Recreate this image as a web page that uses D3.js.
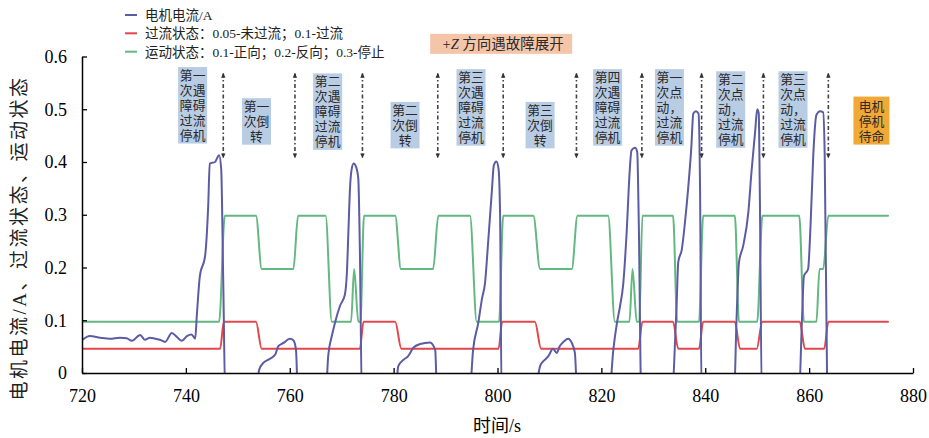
<!DOCTYPE html>
<html><head><meta charset="utf-8">
<script src="https://cdn.jsdelivr.net/npm/d3@7"></script>
<style>
html,body{margin:0;padding:0;background:#fff;}
svg{display:block;}
</style></head>
<body>
<svg id="chart" width="929" height="438"></svg>
<script>
// ---------- data ----------
const xTicks = [720, 740, 760, 780, 800, 820, 840, 860, 880];
const yTicks = [0, 0.1, 0.2, 0.3, 0.4, 0.5, 0.6];
const seriesNames = ["电机电流/A", "过流状态：0.05-未过流；0.1-过流", "运动状态：0.1-正向；0.2-反向；0.3-停止"];

// 电机电流/A
const currentTime = [
  720.1,721.5,723.5,725.4,727.3,728.6,729.6,731.2,732.1,733.1,734.1,735.0,736.0,737.3,738.2,739.2,740.2,741.1,741.8,742.1,742.7,743.7,744.3,744.6,745.6,746.4,746.8,747.2,747.6,
  753.6,754.1,754.9,756.2,757.2,757.8,758.8,760.0,760.7,761.2,761.6,
  767.0,767.4,768.1,768.7,769.7,770.6,771.0,771.3,771.6,771.9,772.3,772.8,773.2,773.5,773.9,
  780.4,780.9,781.9,782.8,783.8,785.1,787.0,788.0,788.4,
  794.7,795.3,796.3,797.0,797.6,798.2,798.9,799.3,799.8,800.2,800.5,800.8,
  807.3,808.2,809.1,809.8,810.7,811.4,812.0,812.8,813.6,814.3,814.9,815.4,
  821.6,822.3,823.0,823.6,824.2,824.9,825.4,825.8,826.5,826.9,827.2,827.7,
  833.7,834.2,834.5,834.8,835.5,836.1,836.7,837.3,837.7,838.2,838.7,839.0,839.3,
  845.6,846.0,846.5,847.3,848.3,848.9,849.6,850.0,850.3,850.5,850.9,
  858.1,858.6,859.0,859.8,860.3,860.8,861.4,862.1,862.7,863.0,863.5
];
const currentValue = [
  0.063,0.070,0.067,0.065,0.067,0.066,0.061,0.072,0.063,0.067,0.065,0.063,0.059,0.076,0.069,0.061,0.070,0.073,0.065,0.108,0.184,0.222,0.317,0.397,0.400,0.413,0.387,0.171,-0.05,
  -0.03,0.006,0.019,0.027,0.035,0.051,0.057,0.065,0.062,0.044,-0.05,
  -0.03,0.032,0.070,0.095,0.128,0.148,0.190,0.270,0.350,0.385,0.397,0.390,0.368,0.235,-0.05,
  -0.03,0.013,0.025,0.032,0.048,0.055,0.058,0.044,-0.05,
  -0.03,0.044,0.095,0.140,0.171,0.248,0.343,0.394,0.401,0.387,0.298,-0.05,
  -0.03,0.013,0.025,0.032,0.046,0.038,0.051,0.060,0.065,0.057,0.038,-0.05,
  -0.03,0.044,0.095,0.127,0.168,0.273,0.374,0.422,0.427,0.419,0.286,-0.05,
  -0.03,0.063,0.133,0.210,0.235,0.286,0.349,0.425,0.492,0.496,0.492,0.349,-0.05,
  -0.03,0.095,0.210,0.241,0.305,0.381,0.457,0.500,0.492,0.349,-0.05,
  -0.03,0.095,0.184,0.197,0.286,0.413,0.489,0.496,0.494,0.413,-0.05
];

// 过流状态
const overTime = [720,746.6,747.3,753.5,754.6,773.5,774.2,780.3,781.5,800.2,800.9,807.2,808.4,827.1,827.9,833.8,834.8,838.8,839.6,845.7,846.7,849.9,851.0,858.2,859.2,862.9,863.7,875.2];
const overValue = [0.046,0.046,0.097,0.097,0.046,0.046,0.097,0.097,0.046,0.046,0.097,0.097,0.046,0.046,0.097,0.097,0.046,0.046,0.097,0.097,0.046,0.046,0.097,0.097,0.046,0.046,0.097,0.097];

// 运动状态
const motionTime = [720,746.4,747.5,753.5,754.6,760.7,761.6,766.9,768.1,771.8,772.4,773.2,773.6,774.3,780.3,781.4,787.6,788.6,794.7,796.0,800.3,801.1,806.9,808.2,814.3,815.4,821.3,822.6,825.4,826.0,826.8,827.3,827.9,833.8,834.6,838.8,839.6,845.7,846.5,850.0,851.0,858.1,859.0,861.4,862.0,862.7,863.7,875.2];
const motionValue = [0.097,0.097,0.298,0.298,0.197,0.197,0.298,0.298,0.097,0.097,0.197,0.097,0.097,0.298,0.298,0.197,0.197,0.298,0.298,0.097,0.097,0.298,0.298,0.197,0.197,0.298,0.298,0.097,0.097,0.197,0.097,0.097,0.298,0.298,0.097,0.097,0.298,0.298,0.097,0.097,0.298,0.298,0.097,0.097,0.197,0.197,0.298,0.298];

// 注释
const noteText = ["第一次遇障碍过流停机","第一次倒转","第二次遇障碍过流停机","第二次倒转","第三次遇障碍过流停机","第三次倒转","第四次遇障碍过流停机","第一次点动，过流停机","第二次点动，过流停机","第三次点动，过流停机","电机停机待命"];
const noteTime = [741.3,753.6,767.3,782.2,794.9,808.2,821.2,833.1,844.9,856.9,872.0];
const noteTop  = [0.580,0.521,0.568,0.514,0.576,0.514,0.576,0.576,0.572,0.572,0.524];
const arrowTime = [747.2,761.0,774.0,788.5,801.1,815.2,827.8,839.3,851.2,863.7];
const arrowRange = [0.568, 0.408];
const bannerText = "方向遇故障展开";
const bannerPos = [800.7, 0.624];

// ---------- drawing ----------
const svg = d3.select("#chart");
const x = d3.scaleLinear().domain([720, 880]).range([82, 913]);
const y = d3.scaleLinear().domain([0, 0.6]).range([373, 56.5]);
const serif = "'Liberation Serif','Noto Sans CJK SC',serif";

const colors = ["#5b5ca3", "#e3474b", "#63b882"];

const defs = svg.append("defs");
defs.append("clipPath").attr("id","plotclip")
  .append("rect").attr("x", 82).attr("y", 30).attr("width", 835).attr("height", 373 - 30);
defs.append("marker").attr("id","arr").attr("viewBox","0 -4 8 8")
  .attr("refX",7).attr("refY",0).attr("markerWidth",5).attr("markerHeight",5)
  .attr("markerUnits","userSpaceOnUse").attr("orient","auto-start-reverse")
  .append("path").attr("d","M0,-3.5L8,0L0,3.5Z").attr("fill","#333");

const line = d3.line().x(d => x(d[0])).y(d => y(d[1])).curve(d3.curveMonotoneX);
const zip = (a, b) => a.map((t, i) => [t, b[i]]);

const g = svg.append("g").attr("clip-path","url(#plotclip)");
[[motionTime, motionValue, colors[2]], [overTime, overValue, colors[1]], [currentTime, currentValue, colors[0]]]
  .forEach(([t, v, c]) => {
    g.append("path").datum(zip(t, v)).attr("d", line)
      .attr("fill","none").attr("stroke", c).attr("stroke-width", 2)
      .attr("stroke-linejoin","round").attr("stroke-linecap","round");
  });

// axes
const xAxis = d3.axisBottom(x).tickValues(xTicks).tickSizeInner(-5).tickSizeOuter(0).tickPadding(16).tickFormat(d3.format("d"));
const yAxis = d3.axisLeft(y).tickValues(yTicks).tickSizeInner(-5).tickSizeOuter(0).tickPadding(15)
  .tickFormat(d => d === 0 ? "0" : d3.format(".1f")(d));
const gx = svg.append("g").attr("transform","translate(0,373)").call(xAxis);
const gy = svg.append("g").attr("transform","translate(82,0)").call(yAxis);
[gx, gy].forEach(a => {
  a.select(".domain").attr("stroke","#000").attr("stroke-width",1.5);
  a.selectAll(".tick line").attr("stroke","#000").attr("stroke-width",1.3);
  a.selectAll(".tick text").attr("font-family", serif).attr("font-size", 18).attr("fill","#000");
});

// axis titles
svg.append("text").attr("x", 497).attr("y", 432).attr("text-anchor","middle")
  .attr("font-family", serif).attr("font-size", 18).attr("fill","#000").text("时间/s");
svg.append("text").attr("transform","translate(26,238) rotate(-90)").attr("text-anchor","middle")
  .attr("font-family", serif).attr("font-size", 19).attr("letter-spacing", 2.5).attr("fill","#222")
  .text("电机电流/A、过流状态、运动状态");

// arrows
svg.append("g").selectAll("line").data(arrowTime).join("line")
  .attr("x1", d => x(d)).attr("x2", d => x(d))
  .attr("y1", y(arrowRange[0])).attr("y2", y(arrowRange[1]))
  .attr("stroke","#444").attr("stroke-width",1.6).attr("stroke-dasharray","4,2.5,1.5,2.5")
  .attr("marker-start","url(#arr)").attr("marker-end","url(#arr)");

// annotation boxes
const fs = 12.8, lh = 15;
noteText.forEach((txt, i) => {
  const lines = [];
  for (let k = 0; k < txt.length; k += 2) lines.push(txt.slice(k, k + 2));
  const orange = i === noteText.length - 1;
  const w = orange ? 36 : 29;
  const h = lines.length * lh + (orange ? 3 : 1.5);
  const cx = x(noteTime[i]), top = y(noteTop[i]);
  svg.append("rect").attr("x", cx - w / 2).attr("y", top).attr("width", w).attr("height", h)
    .attr("fill", orange ? "#f0a935" : "#b8cce4");
  lines.forEach((l, k) => {
    svg.append("text").attr("font-family", serif).attr("font-size", fs).attr("fill","#2a2a2a")
      .attr("text-anchor","middle")
      .attr("x", cx).attr("y", top + (orange ? 2 : 1) + lh * k + 12).text(l);
  });
});

// banner
const bx = x(bannerPos[0]), by = y(bannerPos[1]);
svg.append("rect").attr("x", bx - 71).attr("y", by - 10).attr("width", 142).attr("height", 20)
  .attr("fill","#f5c5a9");
const bt = svg.append("text").attr("x", bx + 2).attr("y", by + 5).attr("text-anchor","middle")
  .attr("font-family", serif).attr("font-size", 14.5).attr("fill","#2a2a2a");
bt.append("tspan").text("+");
bt.append("tspan").attr("font-style","italic").text("Z");
bt.append("tspan").text(" " + bannerText);

// legend
const lg = svg.append("g");
const rowsY = [15, 33.3, 51.7];
seriesNames.forEach((n, i) => {
  lg.append("line").attr("x1", 125).attr("x2", 137).attr("y1", rowsY[i]).attr("y2", rowsY[i])
    .attr("stroke", colors[i]).attr("stroke-width", 2);
  lg.append("text").attr("x", 145).attr("y", rowsY[i] + 5).attr("font-family", serif)
    .attr("font-size", 13.5).attr("fill","#222").text(n);
});
</script>
</body></html>
